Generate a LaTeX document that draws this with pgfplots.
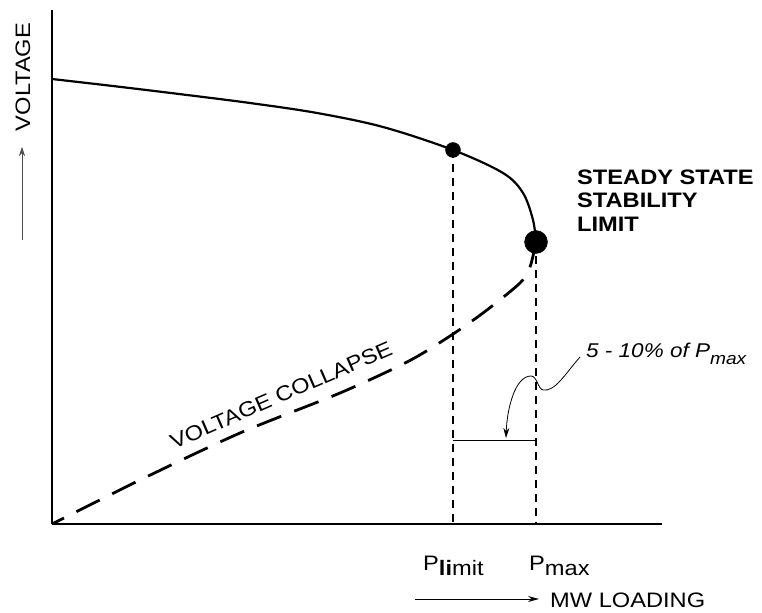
\documentclass[border=0pt]{standalone}
\usepackage{fontspec}
\setmainfont{Liberation Sans}[FakeStretch=1.13]
\usepackage{pgfplots}
\pgfplotsset{compat=1.18}
\usetikzlibrary{arrows.meta}
\begin{document}
\begin{tikzpicture}
\begin{axis}[
  scale only axis, width=610bp, height=514bp,
  xmin=52, xmax=662, ymin=0, ymax=514,
  axis x line=bottom, axis y line=left,
  axis line style={line width=2.6bp, -},
  xtick=\empty, ytick=\empty,
  clip=false,
]
\coordinate (TL) at (axis cs:0,524);
\coordinate (BR) at (axis cs:762,-88);
% upper (stable) branch
\addplot[line width=2.2bp, smooth, tension=0.55] coordinates {
 (52,445) (117,437.5) (183,429.5) (250,421) (317,411) (383,397) (453,374)
 (503,351) (523,331) (533,304) (536,282)};
% lower (unstable) branch
\addplot[line width=2.8bp, smooth, tension=0.5, dash pattern=on 26bp off 14bp] coordinates {
 (536,282) (530,257) (520,241) (483,211) (447,186) (407,162) (340,131) (240,91) (140,44) (52,0)};
% vertical dashed lines
\addplot[line width=1.8bp, dash pattern=on 8bp off 6bp] coordinates {(453,374) (453,0)};
\addplot[line width=1.8bp, dash pattern=on 8bp off 6bp] coordinates {(536,282) (536,0)};
% horizontal span
\addplot[line width=1bp] coordinates {(453,84) (536,84)};
% dots
\addplot[only marks, mark=*, mark size=7.5bp, black] coordinates {(453,374)};
\addplot[only marks, mark=*, mark size=11.5bp, black] coordinates {(536,282)};
% curly arrow
\draw[line width=0.8bp, -{Stealth[length=10bp,width=6bp]}]
  (axis cs:580,167) .. controls (axis cs:565,150) and (axis cs:555,132) .. (axis cs:543,134)
  .. controls (axis cs:538,135) and (axis cs:537,148) .. (axis cs:531,148)
  .. controls (axis cs:515,148) and (axis cs:507,115) .. (axis cs:506,86);
% texts
\node[rotate=90, font=\fontsize{21}{25}\selectfont] at (axis cs:23,447) {VOLTAGE};
\draw[line width=0.7bp, gray!60!black, -{Stealth[length=9bp,width=6bp]}] (axis cs:22,284) -- (axis cs:22,377);
\node[anchor=base west, inner sep=0pt, font=\fontsize{21}{25}\selectfont] at (axis cs:550,-83) {MW LOADING};
\draw[line width=1bp, -{Stealth[length=11bp,width=6bp]}] (axis cs:415,-75) -- (axis cs:539,-75);
\node[anchor=base west, inner sep=0pt, font=\fontsize{21}{25}\selectfont] at (axis cs:423,-46) {P\raisebox{-5bp}{\textbf{li}mit}};
\node[anchor=base west, inner sep=0pt, font=\fontsize{21}{25}\selectfont] at (axis cs:529,-46) {P\raisebox{-5bp}{max}};
\node[anchor=base west, inner sep=0pt, font=\bfseries\fontsize{21}{25}\selectfont] at (axis cs:577,339) {STEADY STATE};
\node[anchor=base west, inner sep=0pt, font=\bfseries\fontsize{21}{25}\selectfont] at (axis cs:577,316) {STABILITY};
\node[anchor=base west, inner sep=0pt, font=\bfseries\fontsize{21}{25}\selectfont] at (axis cs:577,292) {LIMIT};
\node[anchor=base west, inner sep=0pt, font=\itshape\fontsize{20}{24}\selectfont] at (axis cs:586,167) {5 - 10\% of P\raisebox{-7bp}{\fontsize{17}{20}\selectfont max}};
\node[rotate=23.5, font=\fontsize{21}{25}\selectfont] at (axis cs:281,129) {VOLTAGE COLLAPSE};
\end{axis}
\pgfresetboundingbox
\path[use as bounding box] (TL) rectangle (BR);
\end{tikzpicture}
\end{document}
